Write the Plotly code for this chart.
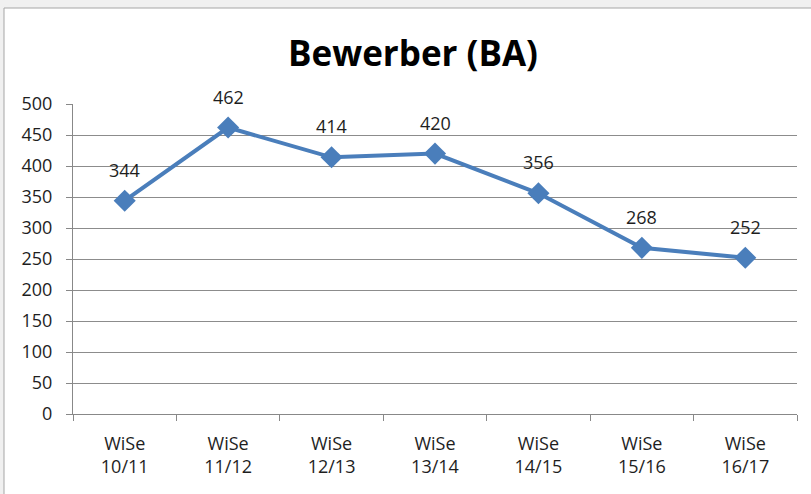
import plotly.graph_objects as go

categories = ["WiSe<br>10/11", "WiSe<br>11/12", "WiSe<br>12/13", "WiSe<br>13/14",
              "WiSe<br>14/15", "WiSe<br>15/16", "WiSe<br>16/17"]
values = [344, 462, 414, 420, 356, 268, 252]
y_ticks = list(range(0, 501, 50))

W, H = 811, 494
ML, MR, MT, MB = 73, 14, 104, 80
PW, PH = W - ML - MR, H - MT - MB

def px_x(p):
    return (p - ML) / PW

def px_y(p):
    return (H - MB - p) / PH

FONT = "'Open Sans', sans-serif"
COLOR = "#4a7ebb"
TXT = "#1e1e1e"

fig = go.Figure()
fig.add_trace(go.Scatter(
    x=categories, y=values, mode="lines+markers",
    line=dict(color=COLOR, width=4),
    marker=dict(symbol="diamond", size=17, color=COLOR),
    hoverinfo="skip", showlegend=False,
))

for c, v in zip(categories, values):
    fig.add_annotation(x=c, y=v, text=str(v), showarrow=False, yshift=31,
                       font=dict(family=FONT, size=18, color=TXT))

fig.add_shape(type="rect", xref="paper", yref="paper",
              x0=px_x(4), x1=px_x(W + 5), y0=px_y(H + 5), y1=px_y(8),
              fillcolor="white", line=dict(color="#a6a6a6", width=1), layer="below")

fig.update_layout(
    width=W, height=H,
    margin=dict(l=ML, r=MR, t=MT, b=MB),
    paper_bgcolor="#f0f0f0", plot_bgcolor="rgba(0,0,0,0)",
    title=dict(text="<b>Bewerber (BA)</b>", x=(413 / W), xanchor="center",
               y=1 - 54 / H, yanchor="middle",
               font=dict(family=FONT, size=35, color="#000000")),
    font=dict(family=FONT, size=18, color=TXT),
)
fig.update_xaxes(type="category", tickson="boundaries", ticks="outside", ticklen=6,
                 tickcolor="#888888", showline=True, linecolor="#888888", linewidth=1,
                 showgrid=False, tickfont=dict(family=FONT, size=18, color=TXT),
                 ticklabelstandoff=13,
                 range=[-0.5, len(categories) - 0.5])
fig.update_yaxes(range=[0, 500], tickvals=y_ticks, ticks="outside", ticklen=6,
                 tickcolor="#888888", showline=True, linecolor="#888888", linewidth=1,
                 showgrid=True, gridcolor="#8c8c8c", gridwidth=1, zeroline=False,
                 ticklabelstandoff=10,
                 tickfont=dict(family=FONT, size=18, color=TXT))

fig.write_html("out.html", config={"displayModeBar": False},
               post_script="document.body.style.margin='0';")
